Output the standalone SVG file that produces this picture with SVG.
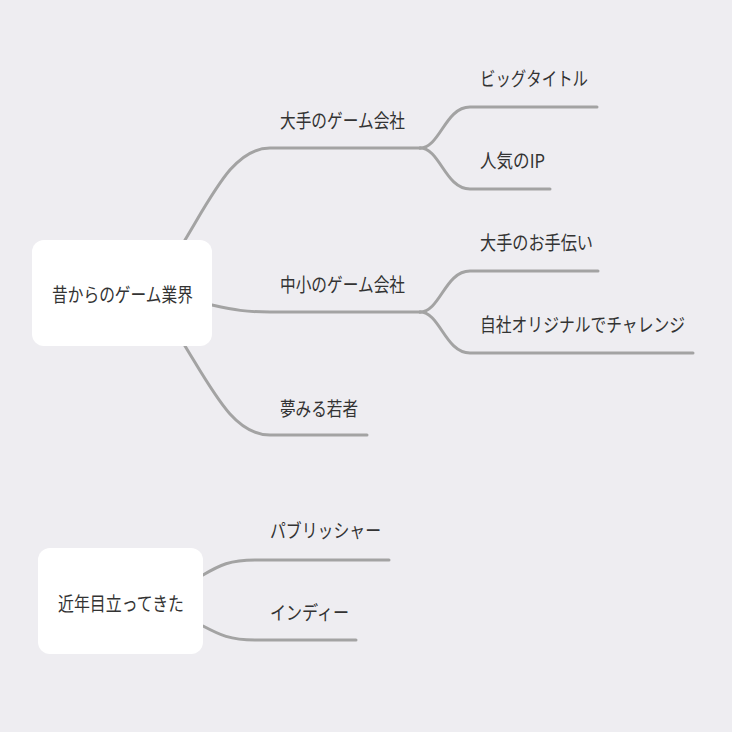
<svg xmlns="http://www.w3.org/2000/svg" width="732" height="732" viewBox="0 0 732 732">
<style>
.bg{fill:#eeedf1}
.box{fill:#ffffff}
.c{fill:none;stroke:#a3a3a3;stroke-width:3;stroke-linecap:round}
text{font-family:"Noto Sans CJK JP","Noto Sans",sans-serif;fill:#333333;font-size:19px}
.r{dominant-baseline:central}
</style>
<rect class="bg" width="732" height="732"/>
<g id="connectors">
<path class="c" d="M185,240 C215,190 235,148 270,148 L420,148"/>
<path class="c" d="M420,148 C440,148 445,107 470,107 L597,107"/>
<path class="c" d="M420,148 C440,148 445,189 470,189 L550,189"/>
<path class="c" d="M212,305 C235,310 245,312 270,312 L420,312"/>
<path class="c" d="M420,312 C440,312 445,271 470,271 L598,271"/>
<path class="c" d="M420,312 C440,312 445,353 470,353 L693,353"/>
<path class="c" d="M185,346 C215,395 235,435 270,435 L367,435"/>
<path class="c" d="M203,575 C220,565 230,560 255,560 L389,560"/>
<path class="c" d="M203,626 C220,635 230,640 255,640 L356,640"/>
</g>
<g id="root1"><rect class="box" x="32" y="240" width="180" height="106" rx="12"/><text class="r" x="52" y="293" textLength="141" lengthAdjust="spacingAndGlyphs">昔からのゲーム業界</text></g>
<g id="n1"><text x="280" y="128" textLength="125" lengthAdjust="spacingAndGlyphs">大手のゲーム会社</text></g>
<g id="n1a"><text x="480" y="86" textLength="108" lengthAdjust="spacingAndGlyphs">ビッグタイトル</text></g>
<g id="n1b"><text x="480" y="168" textLength="65" lengthAdjust="spacingAndGlyphs">人気のIP</text></g>
<g id="n2"><text x="280" y="292" textLength="125" lengthAdjust="spacingAndGlyphs">中小のゲーム会社</text></g>
<g id="n2a"><text x="480" y="250" textLength="113" lengthAdjust="spacingAndGlyphs">大手のお手伝い</text></g>
<g id="n2b"><text x="480" y="332" textLength="205" lengthAdjust="spacingAndGlyphs">自社オリジナルでチャレンジ</text></g>
<g id="n3"><text x="280" y="416" textLength="78" lengthAdjust="spacingAndGlyphs">夢みる若者</text></g>
<g id="root2"><rect class="box" x="38" y="548" width="165" height="106" rx="12"/><text class="r" x="58" y="602" textLength="126" lengthAdjust="spacingAndGlyphs">近年目立ってきた</text></g>
<g id="m1"><text x="270" y="538" textLength="111" lengthAdjust="spacingAndGlyphs">パブリッシャー</text></g>
<g id="m2"><text x="270" y="620" textLength="79" lengthAdjust="spacingAndGlyphs">インディー</text></g>
</svg>
